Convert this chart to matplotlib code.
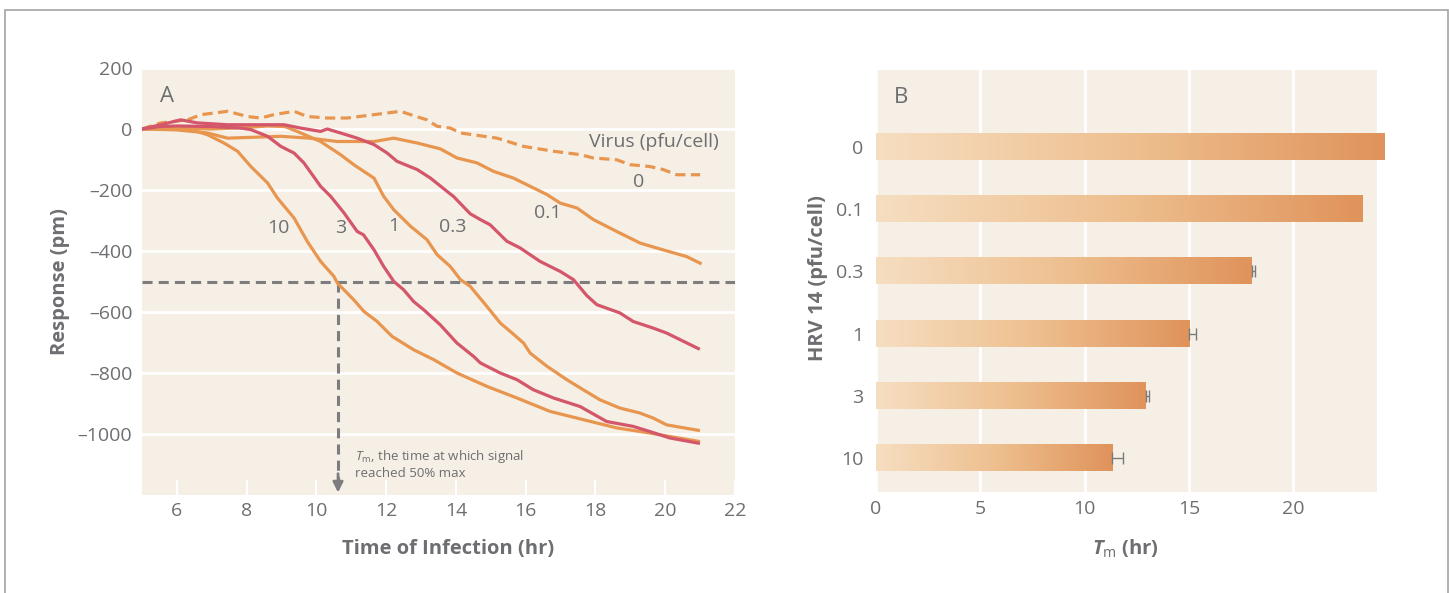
import matplotlib
matplotlib.use("Agg")
import matplotlib.pyplot as plt
import numpy as np
from matplotlib.colors import LinearSegmentedColormap
from matplotlib.patches import Rectangle

plt.rcParams['font.family'] = ['Open Sans', 'DejaVu Sans']
plt.rcParams['mathtext.fontset'] = 'custom'
plt.rcParams['mathtext.rm'] = 'Open Sans'
plt.rcParams['mathtext.it'] = 'Open Sans:italic'
plt.rcParams['mathtext.bf'] = 'Open Sans:bold'
HAS_BFIT = True
try:
    plt.rcParams['mathtext.bfit'] = 'Open Sans:italic:bold'
except Exception:
    HAS_BFIT = False

# ---------------- data: panel A (response curves) ----------------
t_0 = [5.0, 5.54, 6.31, 6.69, 7.45, 8.02, 8.4, 8.78, 9.36, 9.74, 10.31, 10.88, 11.65, 12.41,
       12.7, 13.17, 13.46, 13.84, 14.13, 15.18, 15.94, 16.8, 17.56, 17.94, 18.61, 18.99,
       19.56, 19.94, 20.33, 20.71, 21.0]
v_0 = [0, 20, 30, 47, 58, 41, 36, 47, 58, 41, 36, 36, 47, 58, 47, 30, 9, 3, -13, -30,
       -57, -73, -84, -95, -101, -117, -123, -133, -150, -150, -150]

t_01 = [5.0, 6.0, 6.88, 7.45, 8.98, 9.8, 10.6, 11.65, 12.22, 12.89, 13.27, 13.55, 14.03,
        14.6, 15.08, 15.65, 16.13, 16.61, 16.99, 17.47, 17.94, 18.61, 19.28, 19.75, 20.42,
        20.61, 21.0]
v_01 = [0, -3, -13, -30, -24, -30, -41, -41, -30, -46, -57, -65, -95, -111, -139, -161,
        -188, -215, -243, -259, -297, -336, -374, -390, -412, -418, -440]

t_03 = [5.0, 5.54, 6.11, 6.59, 7.45, 9.07, 9.55, 10.12, 10.31, 10.69, 11.17, 11.65, 12.03,
        12.31, 12.89, 13.27, 13.75, 13.93, 14.41, 14.7, 14.98, 15.46, 15.84, 16.41, 16.99,
        17.37, 17.75, 18.04, 18.7, 19.08, 19.66, 20.04, 20.52, 20.95]
v_03 = [0, 14, 30, 20, 14, 14, 3, -8, 0, -13, -30, -51, -79, -106, -133, -161, -205, -221,
        -278, -297, -314, -368, -390, -434, -467, -494, -546, -576, -603, -631, -653, -669,
        -696, -720]

t_1 = [5.0, 6.0, 7.0, 8.0, 8.6, 9.1, 9.45, 10.12, 10.69, 11.07, 11.65, 11.93, 12.22, 12.7,
       13.17, 13.46, 13.84, 14.13, 14.41, 14.65, 14.89, 15.27, 15.56, 15.94, 16.13, 16.61,
       17.18, 17.65, 18.13, 18.7, 19.27, 19.66, 20.04, 20.95]
v_1 = [0, 3, 0, 5, 10, 8, -8, -41, -84, -117, -161, -221, -265, -319, -363, -412, -451,
       -494, -516, -549, -582, -636, -664, -702, -735, -778, -822, -855, -888, -915, -931,
       -948, -970, -988]

t_3 = [5.0, 5.5, 6.0, 7.0, 7.83, 8.12, 8.6, 8.98, 9.36, 9.64, 10.12, 10.41, 10.79, 11.17,
       11.35, 11.65, 11.93, 12.22, 12.5, 12.79, 13.08, 13.55, 14.03, 14.51, 14.7, 15.27,
       15.75, 16.22, 16.8, 17.56, 18.32, 19.08, 19.56, 20.13, 20.95]
v_3 = [0, 8, 10, 8, 3, -2, -24, -57, -79, -111, -188, -221, -275, -336, -347, -396, -451,
       -500, -527, -566, -593, -642, -702, -746, -767, -800, -822, -855, -882, -910, -959,
       -975, -992, -1013, -1030]

t_10 = [5.0, 5.5, 6.0, 6.5, 6.88, 7.35, 7.74, 8.12, 8.6, 8.88, 9.36, 9.74, 10.12, 10.5,
        10.6, 11.07, 11.36, 11.74, 12.17, 12.79, 13.36, 14.03, 14.89, 15.75, 16.7, 17.65,
        18.61, 19.56, 20.95]
v_10 = [0, 3, 0, -5, -19, -46, -73, -123, -177, -226, -292, -369, -434, -483, -505, -560,
        -598, -631, -680, -724, -756, -800, -844, -882, -926, -953, -980, -997, -1024]

curve_labels = ['10', '3', '1', '0.3', '0.1', '0']
label_t = [8.92, 10.69, 12.21, 13.9, 16.62, 19.25]
label_v = [-324, -324, -317, -320, -274, -173]

half_max = -500
t_m_example = 10.62

yticksA = [200, 0, -200, -400, -600, -800, -1000]
xticksA = [6, 8, 10, 12, 14, 16, 18, 20, 22]

# ---------------- data: panel B (Tm bars) ----------------
doses = ['0', '0.1', '0.3', '1', '3', '10']
tm = [24.34, 23.32, 18.0, 15.0, 12.92, 11.32]
tm_err = [0.0, 0.0, 0.15, 0.35, 0.15, 0.5]
xticksB = [0, 5, 10, 15, 20]

# ---------------- style ----------------
TXT = '#6d6e71'
BG = '#f6efe5'
ORANGE = '#e8964f'
RED = '#d4566a'
DASHC = '#7d7d7f'
TICK_FS = 14

W, H = 1449, 593
fig = plt.figure(figsize=(W / 100, H / 100), dpi=100)


def ax_rect(x0, y0, x1, y1):
    return [x0 / W, 1 - y1 / H, (x1 - x0) / W, (y1 - y0) / H]


fig.add_artist(Rectangle((5 / W, -0.05), 1443 / W, 1.05 - 10 / H, transform=fig.transFigure,
                         fill=False, edgecolor='#a3a3a3', lw=1.2))

# ---------------- panel A ----------------
axA = fig.add_axes(ax_rect(142, 68, 735, 495))
axA.set_facecolor(BG)
for s in axA.spines.values():
    s.set_visible(False)
axA.set_xlim(5, 22)
axA.set_ylim(-1200, 200)
axA.set_yticks(yticksA)
axA.set_xticks(xticksA)
axA.set_yticklabels([str(v).replace('-', '\u2013') for v in yticksA])
axA.grid(axis='y', color='white', lw=2)
axA.set_axisbelow(True)
axA.tick_params(axis='x', direction='in', color='white', length=11, width=1.5,
                labelcolor=TXT, labelsize=TICK_FS, pad=5)
axA.tick_params(axis='y', length=0, labelcolor=TXT, labelsize=TICK_FS, pad=7)

lw = 2.3
axA.plot(t_0, v_0, color=ORANGE, lw=lw, dashes=(3.2, 1.7), zorder=3)
axA.plot(t_01, v_01, color=ORANGE, lw=lw, zorder=3)
axA.plot(t_03, v_03, color=RED, lw=lw, zorder=4)
axA.plot(t_1, v_1, color=ORANGE, lw=lw, zorder=3)
axA.plot(t_3, v_3, color=RED, lw=lw, zorder=4)
axA.plot(t_10, v_10, color=ORANGE, lw=lw, zorder=3)

axA.axhline(half_max, color=DASHC, lw=2.2, dashes=(3.3, 2.0), zorder=2)
axA.plot([t_m_example, t_m_example], [half_max, -1150], color=DASHC, lw=2.2,
         dashes=(3.3, 2.0), zorder=2)
axA.annotate('', xy=(t_m_example, -1192), xytext=(t_m_example, -1130),
             arrowprops=dict(arrowstyle='-|>,head_width=0.3,head_length=0.6',
                             color=DASHC, lw=2.0, shrinkA=0, shrinkB=0), zorder=2)

for lab, tx, vy in zip(curve_labels, label_t, label_v):
    axA.text(tx, vy, lab, color=TXT, fontsize=TICK_FS, ha='center', va='center')
axA.text(19.68, -42, 'Virus (pfu/cell)', color=TXT, fontsize=TICK_FS, ha='center', va='center')

axA.text(11.12, -1075, r'$\mathit{T}_{\mathrm{m}}$, the time at which signal', color=TXT,
         fontsize=9.5, ha='left', va='center')
axA.text(11.12, -1128, 'reached 50% max', color=TXT, fontsize=9.5, ha='left', va='center')

axA.text(0.042, 0.934, 'A', transform=axA.transAxes, color=TXT, fontsize=16,
         ha='center', va='center')

fig.text(60 / W, 1 - 282 / H, 'Response (pm)', rotation=90, ha='center', va='center',
         color=TXT, fontsize=14.5, fontweight='bold')
fig.text(448 / W, 1 - 549 / H, 'Time of Infection (hr)', ha='center', va='center',
         color=TXT, fontsize=14.5, fontweight='bold')

# ---------------- panel B ----------------
axB = fig.add_axes(ax_rect(876, 70, 1377, 492))
axB.set_facecolor(BG)
for s in axB.spines.values():
    s.set_visible(False)

ypos = np.arange(len(doses))
bars = axB.barh(ypos, tm, height=0.42, color='#e0935b', clip_on=False, zorder=2)
cmap = LinearSegmentedColormap.from_list('grad', ['#f6dec1', '#eec090', '#e0935b'])
grad = np.linspace(0, 1, 256).reshape(1, -1)
for b in bars:
    x0, y0, w, h = b.get_x(), b.get_y(), b.get_width(), b.get_height()
    axB.imshow(grad, extent=[x0, x0 + w, y0 + h, y0], cmap=cmap, aspect='auto',
               interpolation='bilinear', clip_on=False, zorder=3)

for i in range(len(doses)):
    if tm_err[i] > 0:
        axB.errorbar(tm[i], ypos[i], xerr=[[0], [tm_err[i]]], fmt='none', ecolor='#7a7a7a',
                     elinewidth=1.0, capsize=4.5, capthick=1.0, zorder=4)

axB.set_xlim(0, 24)
axB.set_ylim(5.55, -1.24)
axB.set_xticks(xticksB)
axB.set_yticks(ypos)
axB.set_yticklabels(doses)
axB.grid(axis='x', color='white', lw=2)
axB.set_axisbelow(True)
axB.tick_params(axis='x', length=0, labelcolor=TXT, labelsize=TICK_FS, pad=6)
axB.tick_params(axis='y', length=0, labelcolor=TXT, labelsize=TICK_FS, pad=9)

axB.text(0.05, 0.934, 'B', transform=axB.transAxes, color=TXT, fontsize=16,
         ha='center', va='center')

fig.text(818 / W, 1 - 278 / H, 'HRV 14 (pfu/cell)', rotation=90, ha='center', va='center',
         color=TXT, fontsize=14.5, fontweight='bold')
if HAS_BFIT:
    tlabel = r'$\mathbfit{T}_{\mathrm{m}}$ (hr)'
else:
    tlabel = r'$\mathit{T}_{\mathrm{m}}$ (hr)'
fig.text(1125 / W, 1 - 549 / H, tlabel, ha='center',
         va='center', color=TXT, fontsize=14.5, fontweight='bold')

fig.savefig('out.png', dpi=100, facecolor='white')
